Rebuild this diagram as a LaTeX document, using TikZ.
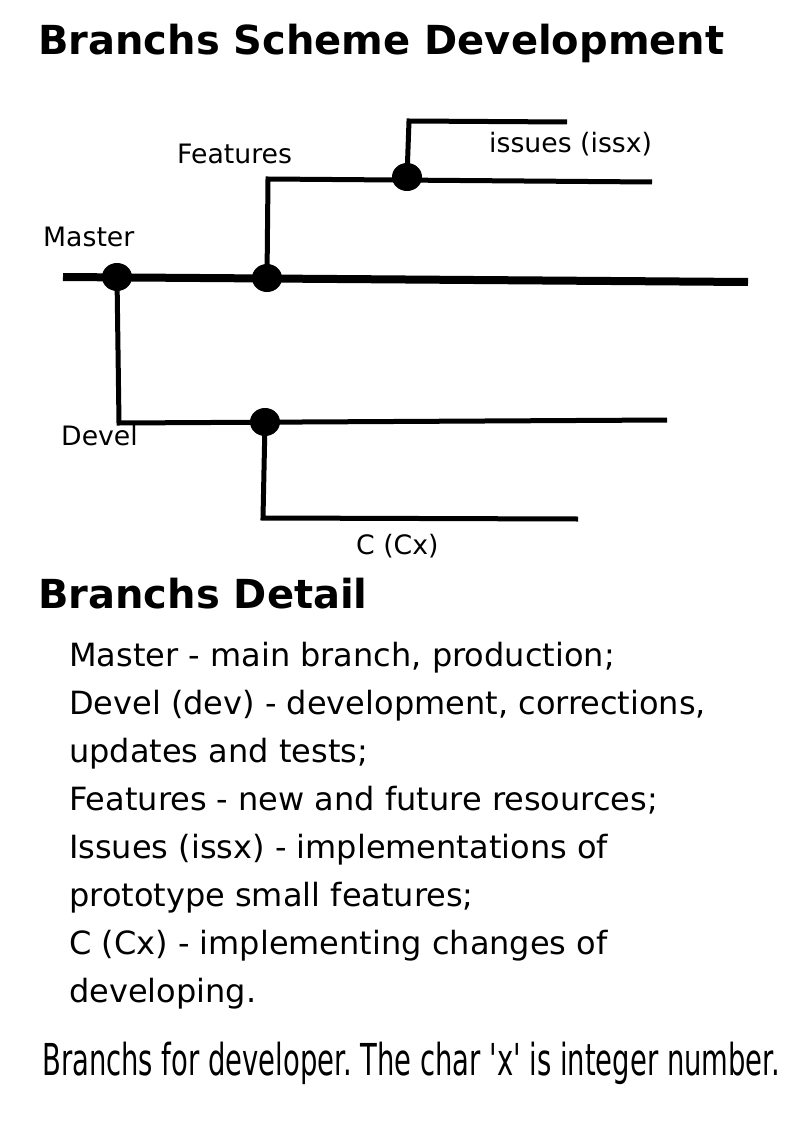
\documentclass[tikz,border=0pt]{standalone}
\usepackage{fontspec}
\setmainfont{DejaVu Sans}
\newfontfamily\notefont{DejaVu Sans}
\usetikzlibrary{positioning,shapes.geometric}
\frenchspacing

\begin{document}
\begin{tikzpicture}[x=1pt, y=-1pt,
    trunk/.style={line width=8pt},
    branch/.style={line width=5pt},
    commit/.style={ellipse, fill, inner sep=0pt, minimum width=30pt, minimum height=28pt},
    tag/.style={anchor=base west, inner sep=0pt, font=\fontsize{26.7}{32}\selectfont},
    head/.style={anchor=base west, inner sep=0pt, font=\fontsize{40}{48}\selectfont\bfseries},
    item/.style={anchor=base west, inner sep=0pt, font=\fontsize{32}{38}\selectfont}]
    \useasboundingbox (0,0) rectangle (794,1123);

    \node[head] (title) at (38,55) {Branchs Scheme Development};

    % commits
    \node[commit] (m1) at (117,277) {};
    \node[commit] (m2) at (267,278) {};
    \node[commit] (f1) at (407,177) {};
    \node[commit] (d1) at (265,422) {};

    % branch ends
    \coordinate (mstart)  at (63,277);
    \coordinate (mend)    at (748,282);
    \coordinate (fcorner) at (268,179);
    \coordinate (fend)    at (652,182);
    \coordinate (icorner) at (409,121);
    \coordinate (iend)    at (567,122);
    \coordinate (dcorner) at (119,423);
    \coordinate (dend)    at (667,420);
    \coordinate (ccorner) at (263,518);
    \coordinate (cend)    at (578,519);

    \draw[trunk]  (mstart) -- (mend);
    \draw[branch] (m2.center) -- (fcorner) -- (fend);
    \draw[branch] (f1.center) -- (icorner) -- (iend);
    \draw[branch] (m1.center) -- (dcorner) -- (dend);
    \draw[branch] (d1.center) -- (ccorner) -- (cend);

    \node[tag] (lmaster) at (43,247)  {Master};
    \node[tag] (lfeat)   at (177,164) {Features};
    \node[tag] (lissue)  at (489,153) {issues (issx)};
    \node[tag] (ldevel)  at (61,445)  {Devel};
    \node[tag] (lchange) at (356,554) {C (Cx)};

    \node[head] (detail) at (38,608) {Branchs Detail};

    \foreach \txt [count=\i] in {{Master - main branch, production;},
        {Devel (dev) - development, corrections,}, {updates and tests;},
        {Features - new and future resources;}, {Issues (issx) - implementations of},
        {prototype small features;}, {C (Cx) - implementing changes of}, {developing.}}{
        \node[item] (item\i) at (69,{666+48*(\i-1)}) {\txt};
    }

    \node[anchor=base west, inner sep=0pt, font=\notefont\fontsize{44}{50}\selectfont] (note) at (42,1075)
        {\resizebox{738pt}{\height}{Branchs for developer. The char 'x' is integer number.}};
\end{tikzpicture}
\end{document}
